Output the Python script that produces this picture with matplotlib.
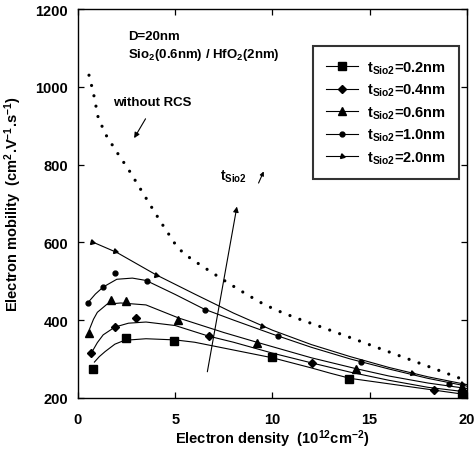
import matplotlib
matplotlib.use("Agg")
import matplotlib.pyplot as plt
from matplotlib.lines import Line2D

plt.rcParams['font.family'] = ['Liberation Sans', 'DejaVu Sans']
plt.rcParams['font.weight'] = 'bold'
plt.rcParams['axes.labelweight'] = 'bold'
plt.rcParams['mathtext.fontset'] = 'custom'
plt.rcParams['mathtext.rm'] = 'Liberation Sans:bold'
plt.rcParams['mathtext.it'] = 'Liberation Sans:bold'
plt.rcParams['mathtext.bf'] = 'Liberation Sans:bold'

# "without RCS" curve (dotted)
x_norcs = [0.57, 0.79, 1.05, 1.48, 2.03, 2.62, 3.17, 3.72, 4.29, 4.58, 5.1, 5.53, 5.96,
           6.87, 7.77, 8.68, 9.58, 10.47, 11.35, 12.25, 14, 16, 18, 19.6]
y_norcs = [1030, 986, 919, 873, 830, 786, 741, 696, 650, 628, 588, 568, 553,
           523, 494, 466, 440, 420, 403, 387, 355, 318, 281, 251]

# measured points
x_02 = [0.78, 2.45, 4.96, 10.0, 13.95, 19.74]
y_02 = [274, 354, 346, 306, 248, 210]
x_04 = [0.65, 1.93, 2.98, 6.72, 12.04, 18.3]
y_04 = [316, 382, 406, 358, 289, 221]
x_06 = [0.58, 1.69, 2.48, 5.17, 9.23, 14.3, 19.74]
y_06 = [368, 452, 448, 401, 341, 275, 228]
x_10 = [0.5, 1.31, 1.9, 3.57, 6.53, 10.27, 14.57, 19.09]
y_10 = [443, 485, 520, 501, 425, 359, 291, 236]
x_20 = [0.72, 1.91, 4.0, 9.46, 17.16, 19.74]
y_20 = [602, 578, 516, 384, 264, 236]

# fitted curves
fx_02 = [0.85, 1.1, 1.4, 1.9, 2.4, 3.5, 5.0, 6.0, 7.3, 8.5, 10, 12, 13, 14, 15, 16, 18, 20]
fy_02 = [292, 306, 319, 338, 348, 352, 349, 343, 330, 318, 303, 277, 263, 250, 243, 236, 222, 208]
fx_04 = [0.7, 1.0, 1.3, 1.9, 2.6, 3.5, 5.0, 6.7, 8, 10, 12, 14, 16, 18, 20]
fy_04 = [316, 342, 362, 382, 392, 395, 386, 359, 343, 315, 290, 266, 245, 227, 215]
fx_06 = [0.6, 0.8, 1.0, 1.5, 2.2, 3.5, 5.2, 7.5, 9.2, 12, 14.3, 16, 18, 20]
fy_06 = [377, 402, 420, 441, 444, 439, 405, 368, 343, 303, 275, 256, 238, 224]
fx_10 = [0.5, 0.9, 1.3, 2.0, 2.8, 3.5, 5.0, 6.5, 8, 10, 12, 14, 16, 18, 20]
fy_10 = [444, 467, 485, 505, 508, 502, 466, 428, 400, 364, 330, 300, 274, 250, 230]
fx_20 = [0.7, 2.0, 4.0, 6.0, 8.0, 10, 12, 14, 16, 18, 20]
fy_20 = [602, 574, 517, 467, 418, 374, 337, 306, 278, 254, 234]

labels = ['0.2nm', '0.4nm', '0.6nm', '1.0nm', '2.0nm']
markers = ['s', 'D', '^', 'o', (3, 0, 15)]
msizes = [5.5, 4.5, 6, 3.5, 4]

points = [(x_02, y_02), (x_04, y_04), (x_06, y_06), (x_10, y_10), (x_20, y_20)]
curves = [(fx_02, fy_02), (fx_04, fy_04), (fx_06, fy_06), (fx_10, fy_10), (fx_20, fy_20)]

fig, ax = plt.subplots(figsize=(4.75, 4.6), dpi=100)
fig.subplots_adjust(left=0.164, right=0.983, bottom=0.133, top=0.978)

ax.plot(x_norcs, y_norcs, color='black', linewidth=2.3,
        linestyle=(0, (0.01, 3.3)), dash_capstyle='round')

handles = []
for (px, py), (cx, cy), m, ms, lab in zip(points, curves, markers, msizes, labels):
    ax.plot(cx, cy, color='black', linewidth=0.8)
    ax.plot(px, py, linestyle='none', marker=m, markersize=ms, color='black')
    handles.append(Line2D([], [], color='black', linewidth=0.8, marker=m, markersize=ms,
                          label=r'$\mathregular{t_{Sio2}}$=' + lab))

leg = ax.legend(handles=handles, loc='upper left', bbox_to_anchor=(0.604, 0.905),
                borderaxespad=0, frameon=True, fancybox=False, fontsize=10.5,
                handlelength=2.2, handletextpad=0.6, labelspacing=0.42,
                borderpad=0.9)
leg.get_frame().set_edgecolor('black')
leg.get_frame().set_linewidth(1.5)

# annotations
ax.text(2.58, 1131, 'D=20nm', fontsize=9.5, va='center')
ax.text(2.58, 1085, r'Sio$_\mathregular{2}$(0.6nm) / HfO$_\mathregular{2}$(2nm)', fontsize=9.5, va='center')
ax.text(1.83, 960, 'without RCS', fontsize=9.5, va='center')
ax.annotate('', xy=(2.82, 862), xytext=(3.55, 924),
            arrowprops=dict(arrowstyle='-|>', color='black', lw=0.8, mutation_scale=8))
ax.text(7.3, 772, r't$_\mathregular{Sio2}$', fontsize=10, va='center')
ax.annotate('', xy=(9.61, 789), xytext=(9.23, 746),
            arrowprops=dict(arrowstyle='-|>', color='black', lw=0.8, mutation_scale=6))
ax.annotate('', xy=(8.2, 699), xytext=(6.63, 260),
            arrowprops=dict(arrowstyle='-|>', color='black', lw=0.8, mutation_scale=8))

ax.set_xlim(0, 20)
ax.set_ylim(200, 1200)
ax.set_xticks([0, 5, 10, 15, 20])
ax.set_yticks([200, 400, 600, 800, 1000, 1200])
ax.tick_params(direction='in', top=True, right=True, length=4, width=0.9, labelsize=10.5)
ax.tick_params(axis='x', pad=10)
ax.tick_params(axis='y', pad=7)
for s in ax.spines.values():
    s.set_linewidth(1.0)

ax.set_xlabel(r'Electron density  (10$^\mathregular{12}$cm$^\mathregular{-2}$)', fontsize=10.5, labelpad=1)
ax.set_ylabel(r'Electron mobility  (cm$^\mathregular{2}$.V$^\mathregular{-1}$.s$^\mathregular{-1}$)', fontsize=10.5, labelpad=8)

fig.savefig('out.png', dpi=100)
